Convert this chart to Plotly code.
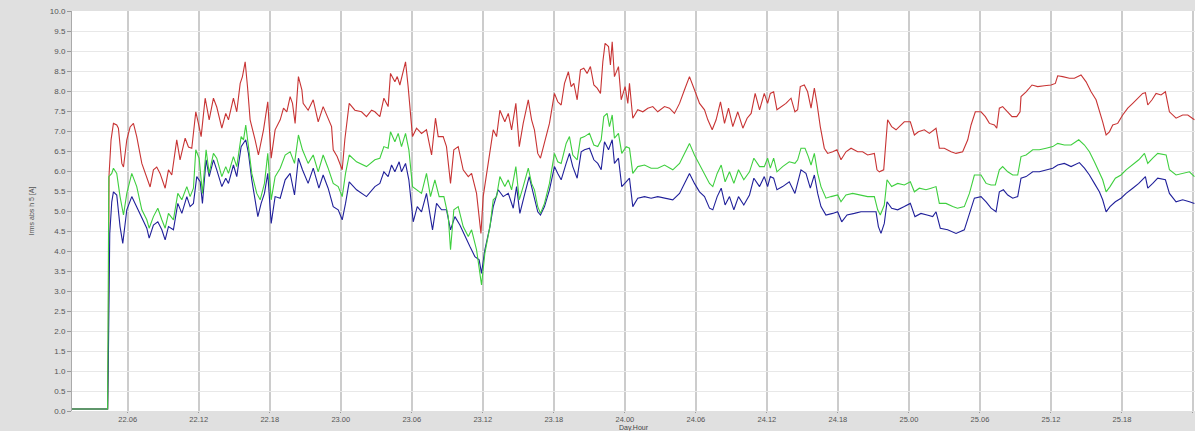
import plotly.graph_objects as go

# time in hours since day 22, 00:00 ; values in A
red_t = [1.29, 4.30, 4.36, 4.42, 4.59, 4.79, 5.07, 5.21, 5.50, 5.64, 5.92, 6.20, 6.48, 6.76, 7.19, 7.61, 7.89, 8.17, 8.45, 8.73,
         9.16, 9.44, 9.72, 10.14, 10.42, 10.85, 11.13, 11.41, 11.75, 11.97, 12.20, 12.54, 12.88, 13.24, 13.52, 13.95, 14.28, 14.51, 14.93, 15.21,
         15.50, 15.69, 15.92, 16.12, 16.34, 16.76, 17.04, 17.47, 17.83, 18.12, 18.45, 18.88, 19.16, 19.44, 19.72, 19.92, 20.14, 20.42, 20.71,
         20.82, 21.24, 21.67, 22.09, 22.51, 22.79, 23.22, 23.36, 23.69, 24.12, 24.34, 24.71, 25.19, 25.75, 26.17, 26.60, 26.88, 27.30, 27.64, 28.00,
         28.20, 28.57, 28.77, 28.99, 29.22, 29.47, 29.69, 30.06, 30.40, 30.82, 31.24, 31.67, 32.00, 32.23, 32.65, 32.93, 33.27, 33.55, 33.92, 34.34,
         34.77, 35.05, 35.47, 35.84, 36.03, 36.46, 36.88, 37.16, 37.44, 37.86, 38.15, 38.43, 38.79, 39.08, 39.41, 39.84, 40.12,
         40.36, 40.64, 40.87, 41.21, 41.63, 42.05, 42.33, 42.62, 42.90, 43.23, 43.46, 43.69, 43.97, 44.25, 44.53, 44.81, 45.09, 45.38, 45.66, 45.94,
         46.14, 46.33, 46.62, 46.78, 46.93, 47.12, 47.46, 47.69, 48.02, 48.25, 48.39, 48.67, 49.09, 49.52, 49.94, 50.36, 50.78, 51.35, 51.77, 52.19,
         52.62, 53.04, 53.46, 53.88, 54.31, 54.73, 55.01, 55.38, 55.71, 56.08, 56.42, 56.76, 57.12, 57.54, 57.97, 58.33, 58.67, 59.01, 59.38,
         59.78, 60.06, 60.29, 60.57, 60.85, 61.19, 61.61, 62.04, 62.37, 62.60, 62.82, 63.16, 63.44, 63.73, 64.01, 64.23, 64.51, 64.85, 65.13, 65.56,
         65.92, 66.26, 66.68, 67.11, 67.67, 68.09, 68.51, 69.08, 69.30, 69.50, 69.87, 70.20, 70.54, 70.91, 71.19, 71.61, 72.12, 72.46, 72.80, 73.30,
         73.73, 74.29, 74.57, 74.99, 75.56,
         75.98, 76.54, 76.97, 77.25, 77.61, 78.09, 78.46, 78.80, 79.22, 79.42, 79.64, 79.92, 80.35, 80.71, 81.11, 81.39, 81.47, 81.90, 82.40, 82.88,
         83.44, 84.01, 84.37, 84.57, 84.99, 85.56, 85.98, 86.54, 86.97, 87.39, 87.81, 88.15, 88.37, 88.66, 88.94, 89.22, 89.64, 90.06, 90.49, 90.91,
         91.33, 91.75, 91.98, 92.18, 92.54, 92.88, 93.30, 93.67, 94.01, 94.57, 95.13, 95.56, 96.12]
red_v = [0.05, 0.05, 1.8, 5.9, 6.78, 7.19, 7.15, 7.07, 6.19, 6.10, 6.78, 7.10, 7.19, 6.86, 6.19, 5.86, 5.60, 6.03, 6.10, 5.94,
         5.57, 6.03, 5.90, 6.78, 6.28, 6.82, 6.60, 6.57, 7.48, 7.19, 6.86, 7.82, 7.28, 7.82, 7.60, 7.07, 7.44, 7.28, 7.82, 7.48,
         8.19, 8.36, 8.73, 8.10, 7.28, 6.78, 6.40, 7.03, 7.73, 6.32, 7.03, 7.28, 7.57, 7.48, 7.86, 7.69, 7.19, 8.36, 8.03,
         7.69, 7.52, 7.78, 7.23, 7.61, 7.40, 7.11, 6.53, 6.36, 6.03, 6.78, 7.69, 7.52, 7.48, 7.36, 7.52, 7.48, 7.36, 7.82, 7.61,
         8.44, 8.23, 8.36, 8.15, 8.40, 8.73, 8.11, 6.86, 7.07, 6.94, 7.03, 6.40, 7.32, 6.86, 6.86, 6.61, 5.69, 6.53, 6.61, 6.03,
         5.86, 5.94, 5.44, 4.44, 5.36, 6.19, 7.03, 6.86, 7.52, 7.23, 7.44, 7.03, 7.69, 6.61, 7.19, 7.78, 7.28,
         7.03, 6.44, 6.32, 6.69, 7.19, 7.94, 7.73, 7.65, 8.19, 8.48, 8.11, 8.19, 7.78, 8.53, 8.57, 8.44, 8.61, 8.15, 8.07, 7.94,
         8.73, 9.19, 9.11, 8.65, 9.23, 8.36, 8.61, 7.78, 8.11, 7.69, 8.19, 7.32, 7.53, 7.48, 7.57, 7.61, 7.48, 7.61, 7.57, 7.44,
         7.69, 8.03, 8.36, 8.03, 7.69, 7.53, 7.28, 7.03, 7.28, 7.73, 7.19, 7.57, 7.11, 7.48, 7.07, 7.32, 7.44, 7.94, 7.53,
         7.94, 7.69, 7.94, 7.98, 7.53, 7.61, 7.69, 7.82, 7.48, 7.53, 8.11, 8.15, 7.98, 7.57, 8.07, 7.69, 7.11, 6.57, 6.44, 6.48,
         6.53, 6.28, 6.48, 6.57, 6.48, 6.48, 6.40, 6.44, 6.03, 5.98, 6.03, 7.28, 7.11, 7.03, 7.11, 7.23, 7.23, 6.90, 6.98, 7.03,
         6.94, 7.07, 6.57, 6.57, 6.48,
         6.44, 6.48, 6.78, 7.15, 7.48, 7.48, 7.36, 7.19, 7.15, 7.07, 7.57, 7.61, 7.48, 7.36, 7.36, 7.48, 7.86, 7.98, 8.15, 8.11,
         8.13, 8.15, 8.19, 8.38, 8.36, 8.32, 8.32, 8.40, 8.23, 7.98, 7.78, 7.48, 7.23, 6.90, 6.98, 7.15, 7.19, 7.40, 7.57, 7.69,
         7.82, 7.94, 7.96, 7.65, 7.78, 7.94, 7.90, 7.98, 7.48, 7.32, 7.40, 7.40, 7.28]

green_t = [1.29, 4.30, 4.40, 4.65, 4.79, 5.07, 5.35, 5.64, 5.92, 6.34, 6.76, 7.19, 7.61, 7.81, 8.17, 8.54, 8.88, 9.16, 9.44, 9.86,
           10.23, 10.57, 10.99, 11.27, 11.55, 11.75, 12.03, 12.31, 12.62, 12.88, 13.24, 13.52, 13.95, 14.28, 14.51, 14.93, 15.21, 15.58, 15.78, 15.97,
           16.20, 16.48, 16.90, 17.19, 17.55, 17.83, 18.12, 18.45, 18.88, 19.30, 19.72, 20.09, 20.42, 20.76,
           21.24, 21.67, 22.09, 22.51, 22.93, 23.36, 23.78, 24.12, 24.40, 24.71, 25.33, 26.17, 26.88, 27.30, 27.64, 28.00, 28.20, 28.57, 28.85, 29.13,
           29.47, 29.75, 30.06, 30.46, 30.82, 31.24, 31.58, 31.95, 32.31, 32.71, 33.08, 33.27, 33.55, 33.92, 34.34, 34.77, 35.05, 35.47, 35.89, 36.17,
           36.60, 36.88, 37.16, 37.44, 37.86, 38.15, 38.43, 38.79, 39.08, 39.41, 39.84, 40.12,
           40.36, 40.64, 40.87, 41.21, 41.63, 42.05, 42.33, 42.62, 43.04, 43.32, 43.60, 43.97, 44.25, 44.59, 45.01, 45.38, 45.71, 46.00, 46.22, 46.50,
           46.70, 46.93, 47.12, 47.46, 47.74, 48.11, 48.39, 48.67, 49.09, 49.66, 50.22, 50.78, 51.35, 52.05, 52.62, 53.04, 53.46, 53.88, 54.31, 54.73,
           55.15, 55.43, 55.80, 56.14, 56.47, 56.84, 57.21, 57.60, 58.05, 58.53, 58.90, 59.38,
           59.78, 60.06, 60.29, 60.57, 60.85, 61.33, 61.89, 62.37, 62.60, 62.88, 63.22, 63.50, 63.73, 64.01, 64.29, 64.57, 64.99, 65.42, 65.98, 66.26,
           66.68, 67.25, 67.81, 68.51, 69.08, 69.36, 69.58, 69.92, 70.15, 70.54, 71.05, 71.61, 72.12, 72.46, 72.88, 73.44, 73.87, 74.29, 74.57, 75.13,
           75.70,
           76.10, 76.68, 77.11, 77.53, 78.09, 78.52, 78.94, 79.30, 79.64, 79.92, 80.35, 80.77, 81.19, 81.47, 81.90, 82.46, 83.02, 83.59, 84.15, 84.57,
           85.13, 85.70, 86.35, 86.83, 87.25, 87.67, 88.09, 88.37, 88.66, 88.99, 89.44, 89.92, 90.35, 90.91, 91.42, 91.90, 92.18, 92.60, 93.02, 93.73,
           94.01, 94.57, 95.13, 95.70, 96.12]
green_v = [0.05, 0.05, 5.86, 5.94, 6.07, 5.94, 5.36, 4.90, 5.44, 5.94, 5.61, 5.03, 4.78, 4.57, 4.86, 5.07, 4.78, 4.57, 4.94, 4.78,
           5.44, 5.28, 5.61, 5.36, 5.57, 6.53, 6.32, 5.44, 6.53, 5.94, 6.44, 6.32, 5.86, 6.11, 5.94, 6.36, 6.11, 6.86, 6.78, 7.15,
           6.61, 5.94, 5.44, 5.28, 5.69, 6.44, 5.28, 5.86, 6.07, 6.40, 6.48, 6.19, 6.90, 6.53,
           6.19, 6.40, 5.98, 6.40, 6.07, 5.69, 5.61, 5.36, 5.94, 6.40, 6.23, 6.11, 6.28, 6.32, 6.61, 6.57, 6.98, 6.73, 6.94, 6.61,
           6.94, 6.53, 5.61, 5.53, 5.44, 5.94, 5.36, 5.78, 5.36, 5.36, 4.86, 4.03, 5.03, 5.11, 4.61, 4.36, 4.53, 4.03, 3.15, 3.94,
           4.61, 5.28, 5.36, 5.86, 5.61, 5.78, 5.53, 6.11, 5.28, 5.61, 6.07, 5.69,
           5.53, 5.11, 4.94, 5.19, 5.69, 6.44, 6.23, 6.19, 6.69, 6.86, 6.40, 6.28, 6.82, 6.86, 6.94, 6.65, 6.61, 6.78, 7.36, 7.44,
           7.11, 7.40, 6.82, 6.94, 6.44, 6.61, 6.57, 5.94, 6.11, 6.15, 6.07, 6.07, 6.15, 6.03, 6.19, 6.44, 6.69, 6.40, 6.15, 5.94,
           5.69, 5.61, 5.94, 6.15, 5.73, 5.98, 5.69, 6.03, 5.78, 5.98, 6.32, 6.11,
           6.11, 6.32, 6.07, 6.32, 5.98, 6.11, 6.23, 6.19, 6.28, 6.57, 6.57, 6.36, 6.15, 6.44, 5.94, 5.61, 5.32, 5.36, 5.40, 5.23,
           5.40, 5.44, 5.40, 5.36, 5.36, 5.03, 4.90, 5.15, 5.78, 5.61, 5.69, 5.65, 5.73, 5.48, 5.57, 5.53, 5.57, 5.61, 5.19, 5.19,
           5.11,
           5.07, 5.11, 5.44, 5.90, 5.90, 5.69, 5.65, 5.65, 6.03, 6.11, 5.98, 5.90, 5.90, 6.36, 6.40, 6.53, 6.53, 6.57, 6.61, 6.69,
           6.65, 6.65, 6.78, 6.65, 6.48, 6.23, 5.98, 5.78, 5.48, 5.61, 5.82, 5.90, 6.03, 6.15, 6.28, 6.44, 6.19, 6.32, 6.44, 6.40,
           6.03, 5.90, 5.94, 5.98, 5.86]

blue_t = [1.29, 4.30, 4.36, 4.42, 4.48, 4.65, 4.79, 5.07, 5.35, 5.58, 5.92, 6.34, 6.76, 7.19, 7.61, 7.81, 8.17, 8.54, 8.88, 9.16,
          9.44, 9.86, 10.23, 10.57, 10.99, 11.27, 11.55, 11.83, 12.12, 12.31, 12.62, 12.88, 13.24, 13.52, 13.95, 14.28, 14.51, 14.93, 15.21, 15.58,
          15.78, 15.97, 16.20, 16.48, 16.99, 17.27, 17.55, 17.83, 18.12, 18.45, 18.88, 19.30, 19.72, 20.09, 20.42, 20.76,
          21.24, 21.67, 22.15, 22.51, 22.93, 23.36, 23.78, 24.12, 24.40, 24.71, 25.33, 26.17, 26.88, 27.30, 27.64, 28.00, 28.29, 28.57, 28.93, 29.13,
          29.47, 29.75, 30.12, 30.46, 30.82, 31.24, 31.75, 32.09, 32.51, 32.93, 33.27, 33.64, 34.06, 34.48, 34.91, 35.33, 35.69, 35.89, 36.17, 36.60,
          36.88, 37.30, 37.72, 38.15, 38.57, 38.85, 39.13, 39.55, 39.92, 40.26,
          40.64, 40.87, 41.21, 41.63, 42.05, 42.33, 42.62, 43.04, 43.32, 43.60, 43.97, 44.31, 44.59, 45.01, 45.38, 45.71, 46.00, 46.28, 46.62, 46.93,
          47.12, 47.46, 47.74, 48.11, 48.39, 48.67, 49.09, 49.66, 50.22, 50.78, 51.35, 52.05, 52.62, 53.04, 53.46, 53.88, 54.31, 54.73, 55.15, 55.43,
          55.80, 56.14, 56.47, 56.84, 57.21, 57.60, 58.05, 58.53, 58.90, 59.38,
          59.78, 60.06, 60.29, 60.57, 60.85, 61.33, 61.89, 62.37, 62.60, 62.88, 63.30, 63.67, 64.01, 64.29, 64.57, 64.99, 65.56, 65.98, 66.32, 66.77,
          67.39, 67.95, 68.51, 69.22, 69.42, 69.64, 69.92, 70.15, 70.54, 71.05, 71.61, 72.12, 72.51, 73.02, 73.53, 74.01, 74.29, 74.65, 75.27,
          75.98, 76.68, 77.11, 77.53, 78.09, 78.52, 78.94, 79.36, 79.64, 79.98, 80.35, 80.77, 81.19, 81.47, 81.90, 82.46, 83.02, 83.59, 84.15, 84.57,
          85.13, 85.70, 86.40, 86.83, 87.25, 87.67, 88.09, 88.37, 88.66, 88.99, 89.44, 89.92, 90.35, 90.91, 91.42, 91.98, 92.18, 92.60, 93.02, 93.67,
          94.01, 94.57, 95.13, 95.70, 96.12]
blue_v = [0.05, 0.05, 1.25, 3.2, 4.44, 5.23, 5.48, 5.40, 4.61, 4.19, 5.03, 5.36, 5.11, 4.82, 4.57, 4.32, 4.65, 4.73, 4.53, 4.28,
          4.61, 4.53, 5.19, 4.94, 5.36, 5.11, 5.19, 5.86, 5.73, 5.19, 6.28, 5.86, 6.28, 6.03, 5.61, 5.82, 5.69, 6.15, 5.86, 6.61,
          6.69, 6.78, 6.44, 5.78, 4.86, 5.19, 5.44, 5.94, 4.69, 5.36, 5.32, 5.78, 5.94, 5.40, 6.32, 6.03,
          5.69, 6.07, 5.57, 5.90, 5.57, 5.11, 5.03, 4.78, 5.19, 5.73, 5.53, 5.36, 5.61, 5.69, 5.98, 5.86, 6.15, 5.98, 6.23, 5.98,
          6.19, 5.78, 4.73, 5.11, 4.98, 5.44, 4.53, 5.19, 5.03, 5.03, 4.53, 4.86, 4.65, 4.36, 4.11, 3.86, 3.78, 3.44, 4.03, 4.61,
          5.11, 5.53, 5.36, 5.44, 5.07, 5.61, 4.94, 5.44, 5.86, 5.44,
          4.98, 4.90, 5.11, 5.53, 6.11, 5.94, 5.78, 6.19, 6.44, 6.11, 5.82, 6.48, 6.53, 6.57, 6.28, 6.19, 6.03, 6.73, 6.53, 6.78,
          6.19, 6.32, 5.61, 5.73, 5.82, 5.11, 5.32, 5.36, 5.32, 5.36, 5.32, 5.28, 5.44, 5.69, 5.94, 5.69, 5.48, 5.36, 5.07, 5.03,
          5.36, 5.57, 5.15, 5.36, 5.03, 5.36, 5.15, 5.40, 5.82, 5.61,
          5.86, 5.61, 5.86, 5.82, 5.53, 5.61, 5.73, 5.44, 5.73, 6.03, 5.94, 5.57, 5.90, 5.44, 5.11, 4.90, 4.94, 4.98, 4.73, 4.90,
          4.94, 4.98, 4.98, 4.98, 4.61, 4.44, 4.69, 5.23, 5.07, 5.03, 5.11, 5.19, 4.86, 4.94, 4.90, 4.86, 4.98, 4.57, 4.53,
          4.44, 4.53, 4.94, 5.32, 5.36, 5.23, 5.07, 4.98, 5.48, 5.53, 5.40, 5.32, 5.36, 5.82, 5.86, 5.98, 5.98, 6.03, 6.07, 6.15,
          6.19, 6.11, 6.21, 6.07, 5.90, 5.69, 5.48, 5.28, 4.98, 5.11, 5.23, 5.32, 5.44, 5.57, 5.69, 5.86, 5.57, 5.69, 5.82, 5.78,
          5.44, 5.23, 5.28, 5.23, 5.19]

tick_hours = [6, 12, 18, 24, 30, 36, 42, 48, 54, 60, 66, 72, 78, 84, 90, 96]
tick_labels = ["22.06", "22.12", "22.18", "23.00", "23.06", "23.12", "23.18", "24.00",
               "24.06", "24.12", "24.18", "25.00", "25.06", "25.12", "25.18", "26.00"]
x_range = [1.29, 96.17]
y_range = [0, 10]

fig = go.Figure()
fig.add_trace(go.Scatter(x=red_t, y=red_v, mode="lines", line=dict(color="#c83434", width=1.1), showlegend=False))
fig.add_trace(go.Scatter(x=blue_t, y=blue_v, mode="lines", line=dict(color="#20209a", width=1.1), showlegend=False))
fig.add_trace(go.Scatter(x=green_t, y=green_v, mode="lines", line=dict(color="#3fcf3f", width=1.1), showlegend=False))

fig.update_layout(
    width=1195, height=431,
    margin=dict(l=72, r=0, t=11, b=20, autoexpand=False),
    paper_bgcolor="#e0e0e0",
    plot_bgcolor="#ffffff",
    font=dict(family="Liberation Sans, Arial, sans-serif", size=8, color="#555555"),
    xaxis=dict(
        range=x_range, tickmode="array", tickvals=tick_hours, ticktext=tick_labels,
        showgrid=True, gridcolor="#cccccc", gridwidth=1.5,
        ticks="outside", ticklen=1, tickcolor="#999999",
        showline=False, zeroline=False,
        tickfont=dict(size=7.5, color="#555555"),
    ),
    yaxis=dict(
        range=y_range, dtick=0.5, tickformat=".1f",
        showgrid=True, gridcolor="#e8e8e8", gridwidth=1,
        ticks="outside", ticklen=4, tickcolor="#999999",
        showline=True, linecolor="#aaaaaa", linewidth=1, zeroline=False,
        tickfont=dict(size=8, color="#555555"),
        title=dict(text="Irms abs h 5 [A]", font=dict(size=7, color="#555555"), standoff=14),
    ),
    annotations=[dict(text="Day.Hour", xref="paper", yref="paper", x=0.5, y=0,
                      xanchor="center", yanchor="middle", yshift=-16.5, showarrow=False,
                      font=dict(size=7, color="#444444"))],
)

fig.write_html("out.html", config={"displayModeBar": False},
               post_script="document.body.style.margin='0';document.body.style.overflow='hidden';")
